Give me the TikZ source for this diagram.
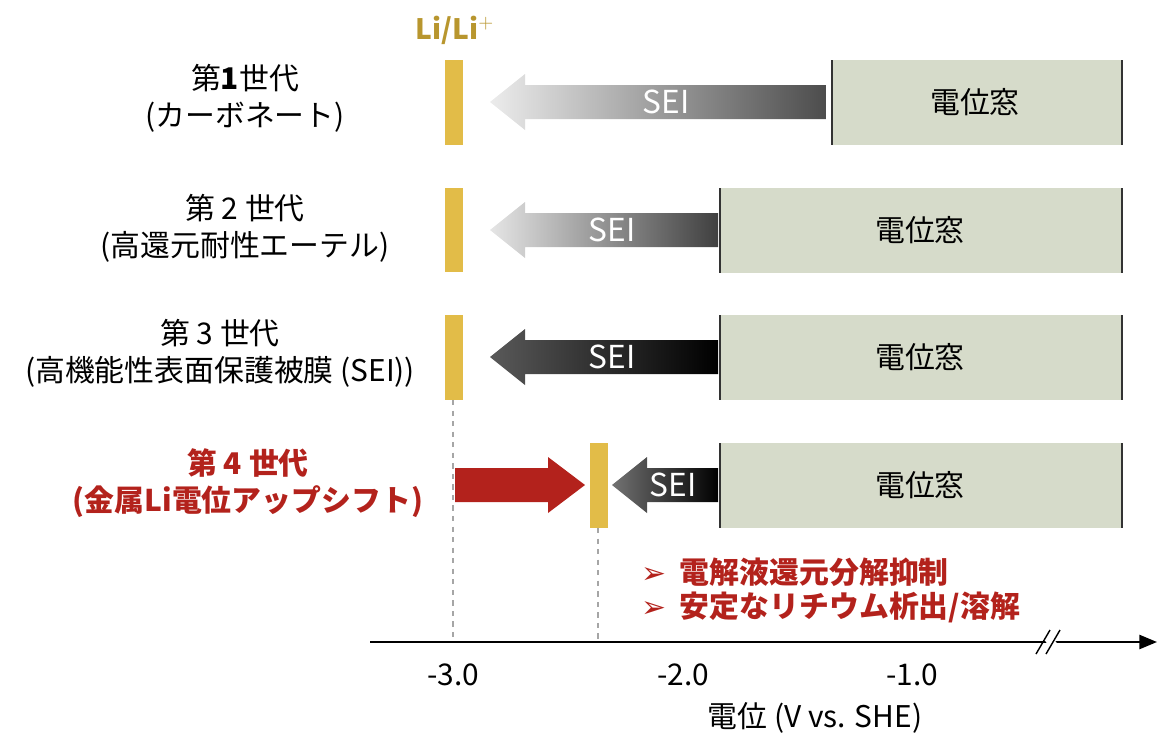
\documentclass[tikz,border=0pt]{standalone}
\usepackage{fontspec}
\setmainfont{Noto Sans CJK JP}
\newfontfamily\symfont{DejaVu Sans}
\usetikzlibrary{arrows.meta}
\definecolor{gold}{HTML}{E2BC48}
\definecolor{goldtext}{HTML}{B8962E}
\definecolor{window}{HTML}{D6DBCA}
\definecolor{deepred}{HTML}{B3221C}

% SEI arrow: tip x, end x, centre y, tip colour, end colour
\newcommand{\seiarrow}[6]{%
    \shade[left color=#4, right color=#5]
        (#1,#3) -- (#1+35,#3-28) -- (#1+35,#3-17) -- (#2,#3-17)
        -- (#2,#3+17) -- (#1+35,#3+17) -- (#1+35,#3+28) -- cycle;
    \node[seitext] (#6) at ({(#1+#2)/2+8},#3) {SEI};
}

\begin{document}
\begin{tikzpicture}[x=0.02cm, y=-0.02cm]

    % Define styles
    \tikzset{
        libar/.style={fill=gold, draw=none},
        windowbox/.style={fill=window, draw=none},
        windowedge/.style={line width=1.6pt, draw=black!80},
        seitext/.style={text=white, font=\fontsize{18}{20}\selectfont},
        gentext/.style={font=\fontsize{17}{21}\selectfont, align=center},
        windowtext/.style={font=\fontsize{17}{20}\selectfont},
        guide/.style={dashed, gray!70, line width=0.6pt},
        ticktext/.style={font=\fontsize{17}{20}\selectfont}
    }

    \useasboundingbox (0,0) rectangle (1176,754);

    % Li/Li+ label
    \node[text=goldtext, font=\fontsize{16}{19}\selectfont\bfseries] (lilabel) at (455,30) {Li/Li$^{\mathbf{+}}$};

    % Li bars
    \fill[libar] (445,60) rectangle (463,145);
    \fill[libar] (445,188) rectangle (463,272);
    \fill[libar] (445,315) rectangle (463,400);
    \fill[libar] (590,443) rectangle (608,528);

    % Potential windows
    \fill[windowbox] (832,60) rectangle (1122,145);
    \draw[windowedge] (832,60) -- (832,145);
    \draw[windowedge] (1122,60) -- (1122,145);
    \node[windowtext] (win1) at (975,102) {電位窓};
    \foreach \y/\n in {188/2, 315/3, 443/4} {
        \fill[windowbox] (720,\y) rectangle (1122,\y+85);
        \draw[windowedge] (720,\y) -- (720,\y+85);
        \draw[windowedge] (1122,\y) -- (1122,\y+85);
        \node[windowtext] (win\n) at (920,\y+42) {電位窓};
    }

    % SEI arrows
    \seiarrow{490}{826}{102}{gray!15}{black!70}{sei1}
    \seiarrow{490}{718}{230}{gray!20}{black!75}{sei2}
    \seiarrow{490}{718}{357}{black!65}{black}{sei3}
    \seiarrow{612}{718}{485}{black!55}{black}{sei4}

    % Red shift arrow
    \fill[deepred] (455,468) -- (548,468) -- (548,457) -- (585,485)
        -- (548,513) -- (548,502) -- (455,502) -- cycle;

    % Generation labels
    \node[gentext] (gen1) at (245,98) {第\textbf{1}世代\\(カーボネート)};
    \node[gentext] (gen2) at (245,228) {第 2 世代\\(高還元耐性エーテル)};
    \node[gentext] (gen3) at (220,353) {第 3 世代\\(高機能性表面保護被膜 (SEI))};
    \node[gentext, text=deepred, font=\fontsize{17}{21}\selectfont\bfseries] (gen4) at (248,483)
        {第 4 世代\\(金属Li電位アップシフト)};

    % Effects
    \node[anchor=west, text=deepred, font=\fontsize{17}{20}\selectfont\bfseries] (eff1) at (635,572)
        {{\symfont ➢}\ \ 電解液還元分解抑制};
    \node[anchor=west, text=deepred, font=\fontsize{17}{20}\selectfont\bfseries] (eff2) at (635,607)
        {{\symfont ➢}\ \ 安定なリチウム析出/溶解};

    % Guide lines
    \draw[guide] (453,400) -- (453,642);
    \draw[guide] (598,528) -- (598,642);

    % Axis
    \coordinate (axstart) at (370,642);
    \coordinate (axend) at (1157,642);
    \draw[line width=1.2pt, -{Triangle[length=10pt, width=8pt]}] (axstart) -- (axend);
    \fill[white] (1040,634) -- (1050,634) -- (1062,650) -- (1052,650) -- cycle;
    \draw[line width=0.8pt] (1036,654) -- (1050,630);
    \draw[line width=0.8pt] (1046,654) -- (1060,630);
    \node[ticktext] (t3) at (453,675) {-3.0};
    \node[ticktext] (t2) at (683,675) {-2.0};
    \node[ticktext] (t1) at (912,675) {-1.0};
    \node[ticktext] (axlabel) at (815,718) {電位 (V vs. SHE)};

\end{tikzpicture}
\end{document}
